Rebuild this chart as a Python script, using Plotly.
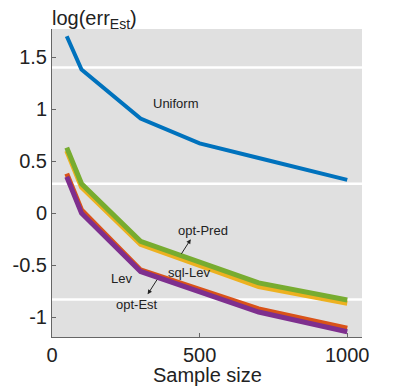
import plotly.graph_objects as go

# sample sizes and log errors
sample_size = [50, 100, 300, 500, 700, 1000]
uniform = [1.70, 1.38, 0.91, 0.67, 0.53, 0.32]
lev = [0.38, 0.03, -0.545, -0.735, -0.92, -1.105]
sql_lev = [0.60, 0.25, -0.30, -0.50, -0.705, -0.865]
opt_est = [0.35, 0.00, -0.56, -0.76, -0.95, -1.14]
opt_pred = [0.63, 0.283, -0.27, -0.47, -0.67, -0.835]

y_ticks = [-1, -0.5, 0, 0.5, 1, 1.5]
y_ticktext = ["-1", "-0.5", "0", "0.5", "1", "1.5"]
x_ticks = [0, 500, 1000]

# white separator lines across the gray panel
separators = [1.40, 0.283, -0.83]

series = [
    ("Uniform", uniform, "#0072BD", 4),
    ("Lev", lev, "#D95319", 5),
    ("sql-Lev", sql_lev, "#EDB120", 5),
    ("opt-Est", opt_est, "#7E2F8E", 5),
    ("opt-Pred", opt_pred, "#77AC30", 5),
]

FONT = "Liberation Sans, Arial, sans-serif"

fig = go.Figure()
for name, vals, color, w in series:
    fig.add_trace(go.Scatter(x=sample_size, y=vals, mode="lines", name=name,
                             line=dict(color=color, width=w)))

for s in separators:
    fig.add_shape(type="line", xref="paper", x0=0, x1=1, yref="y", y0=s, y1=s,
                  line=dict(color="white", width=2.5), layer="below")

lab_font = dict(family=FONT, size=13, color="#222")
# text labels
fig.add_annotation(x=421, y=1.057, text="Uniform", showarrow=False, font=lab_font)
fig.add_annotation(x=234, y=-0.623, text="Lev", showarrow=False, font=lab_font)
fig.add_annotation(x=463, y=-0.568, text="sql-Lev", showarrow=False, font=lab_font)
# labels with arrows
fig.add_annotation(x=511, y=-0.167, text="opt-Pred", showarrow=False, font=lab_font)
fig.add_annotation(x=470, y=-0.25, ax=434, ay=-0.41, xref="x", yref="y", axref="x", ayref="y",
                   text=" ", showarrow=True, arrowhead=2, arrowsize=0.9, arrowwidth=1,
                   arrowcolor="#222", font=dict(size=1))
fig.add_annotation(x=287, y=-0.873, text="opt-Est", showarrow=False, font=lab_font)
fig.add_annotation(x=324, y=-0.78, ax=360, ay=-0.62, xref="x", yref="y", axref="x", ayref="y",
                   text=" ", showarrow=True, arrowhead=2, arrowsize=0.9, arrowwidth=1,
                   arrowcolor="#222", font=dict(size=1))

fig.add_annotation(xref="paper", yref="paper", x=-0.005, y=1.0, yshift=-5,
                   xanchor="left", yanchor="bottom", showarrow=False,
                   text="log(err<sub>Est</sub>)",
                   font=dict(family=FONT, size=20, color="#222"))

axis_font = dict(family=FONT, size=20, color="#222")
fig.add_annotation(xref="paper", yref="paper", x=0.5, y=0, yshift=-38,
                   xanchor="center", yanchor="middle", showarrow=False,
                   text="Sample size", font=axis_font)

fig.update_xaxes(range=[0, 1050], tickvals=x_ticks, showgrid=False, zeroline=False,
                 showline=True, linecolor="#666", linewidth=1, ticks="inside", ticklen=4,
                 tickcolor="#666", tickfont=axis_font)
fig.update_yaxes(range=[-1.19, 1.77], tickvals=y_ticks, ticktext=y_ticktext, showgrid=False,
                 zeroline=False, showline=True, linecolor="#666", linewidth=1,
                 ticks="inside", ticklen=4, tickcolor="#666", tickfont=axis_font)

# page body has an 8px margin, so the figure is shrunk and margins shifted
fig.update_layout(width=391, height=379, showlegend=False,
                  margin=dict(l=44, r=37, t=21, b=50, autoexpand=False),
                  plot_bgcolor="#e0e0e0", paper_bgcolor="white")

fig.write_html("out.html")
